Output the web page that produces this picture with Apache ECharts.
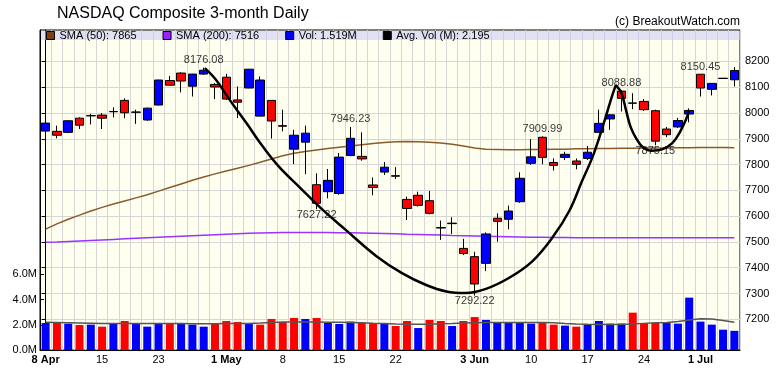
<!DOCTYPE html>
<html>
<head>
<meta charset="utf-8">
<title>NASDAQ Composite 3-month Daily</title>
<script src="https://cdn.jsdelivr.net/npm/echarts@6/dist/echarts.min.js"></script>
<style>
  html, body { margin: 0; padding: 0; background: #fff; }
  #chart { width: 780px; height: 376px; }
</style>
</head>
<body>
<div id="chart"></div>
<script>
// trading days on the chart
var dates = [
  '2019-04-08','2019-04-09','2019-04-10','2019-04-11','2019-04-12','2019-04-15','2019-04-16','2019-04-17','2019-04-18',
  '2019-04-22','2019-04-23','2019-04-24','2019-04-25','2019-04-26','2019-04-29','2019-04-30',
  '2019-05-01','2019-05-02','2019-05-03','2019-05-06','2019-05-07','2019-05-08','2019-05-09','2019-05-10',
  '2019-05-13','2019-05-14','2019-05-15','2019-05-16','2019-05-17','2019-05-20','2019-05-21','2019-05-22',
  '2019-05-23','2019-05-24','2019-05-28','2019-05-29','2019-05-30','2019-05-31',
  '2019-06-03','2019-06-04','2019-06-05','2019-06-06','2019-06-07','2019-06-10','2019-06-11','2019-06-12',
  '2019-06-13','2019-06-14','2019-06-17','2019-06-18','2019-06-19','2019-06-20','2019-06-21','2019-06-24',
  '2019-06-25','2019-06-26','2019-06-27','2019-06-28',
  '2019-07-01','2019-07-02','2019-07-03','2019-07-05'
];

var opens = [
  7930, 7929, 7925, 7980, 7989, 7992, 8005, 8049, 8003, 7973, 8031, 8126, 8155, 8104, 8151, 8111,
  8139, 8051, 8097, 7988, 8049, 7951, 7860, 7887, 7722, 7695, 7688, 7835, 7832, 7721, 7771, 7757,
  7665, 7681, 7660, 7556, 7571, 7475, 7443, 7417, 7592, 7588, 7656, 7805, 7906, 7808, 7828, 7814,
  7824, 7925, 7977, 8085, 8038, 8045, 8009, 7938, 7946, 7996, 8150.45, 8092, 8134, 8129
];
var closes = [
  7961, 7914, 7970, 7953, 7990, 7980, 8006, 8001, 8004, 8019, 8128, 8108, 8124, 8151, 8166, 8101,
  8054, 8042, 8170, 8128, 7969, 7949, 7914, 7922, 7650, 7739, 7829, 7902, 7822, 7711, 7790, 7755,
  7630, 7642, 7611, 7554, 7573, 7455, 7337, 7531, 7580, 7620, 7747, 7830, 7828, 7797, 7840, 7801,
  7848, 7960, 7993, 8057, 8039, 8013, 7891, 7916, 7971, 8010, 8097, 8115, 8135, 8165
];
var lows = [
  7893, 7902, 7922, 7938, 7956, 7938, 7983, 7980, 7958, 7970, 8030, 8107, 8080, 8064, 8148, 8054,
  8051, 7980, 8096, 7987, 7901, 7929, 7802, 7763, 7627.22, 7669, 7683, 7833, 7815, 7681, 7760, 7744,
  7585, 7637, 7607, 7508, 7531, 7449, 7292.22, 7387, 7501, 7549, 7652, 7799, 7801, 7777, 7818, 7782,
  7818, 7924, 7935, 8006, 8015, 8008, 7875.15, 7906, 7942, 7964, 8064, 8068, 8133, 8103
];
var highs = [
  7962, 7951, 7972, 7983, 7997, 8000, 8022, 8057, 8013, 8021, 8129, 8144, 8158, 8152, 8176.08, 8116,
  8152, 8103, 8171, 8142, 8050, 8013, 7935, 7951, 7766, 7783, 7845, 7946.23, 7925, 7750, 7810, 7790,
  7676, 7695, 7698, 7583, 7596, 7512, 7462, 7537, 7611, 7641, 7770, 7899, 7909.99, 7824, 7850, 7824,
  7872, 8013, 7995, 8088.88, 8077, 8054, 8013, 7946, 7981, 8018, 8150.45, 8116, 8136, 8178
];

// volume in millions
var volumes = [
  2.14, 2.19, 2.09, 1.98, 2.01, 1.85, 2.14, 2.30, 2.14, 1.85, 2.14, 2.06, 2.06, 2.01, 1.85, 2.14,
  2.30, 2.22, 2.09, 2.01, 2.46, 2.22, 2.54, 2.46, 2.54, 2.14, 2.06, 2.25, 2.14, 2.14, 2.06, 1.90,
  2.30, 1.74, 2.38, 2.30, 1.90, 2.30, 2.61, 2.38, 2.17, 2.14, 2.14, 2.09, 2.19, 2.01, 1.93, 1.85,
  2.01, 2.30, 2.09, 2.09, 2.96, 2.14, 2.14, 2.17, 2.09, 4.15, 2.25, 2.01, 1.61, 1.519
];
var avgVol = [
  2.19, 2.18, 2.16, 2.14, 2.12, 2.10, 2.10, 2.10, 2.11, 2.11, 2.11, 2.10, 2.10, 2.09, 2.09, 2.09,
  2.10, 2.10, 2.11, 2.13, 2.17, 2.21, 2.22, 2.22, 2.21, 2.20, 2.19, 2.18, 2.15, 2.12, 2.10, 2.07,
  2.05, 2.04, 2.05, 2.08, 2.10, 2.13, 2.15, 2.17, 2.18, 2.18, 2.18, 2.18, 2.17, 2.15, 2.10, 2.06,
  2.04, 2.03, 2.03, 2.04, 2.07, 2.11, 2.15, 2.18, 2.25, 2.38, 2.47, 2.46, 2.34, 2.195
];
var sma50 = [
  7550, 7570, 7588, 7604, 7620, 7634, 7647, 7659, 7671, 7683, 7697, 7711, 7725, 7739, 7752, 7764,
  7775, 7786, 7797, 7809, 7822, 7834, 7844, 7851, 7857, 7862, 7867, 7872, 7877, 7882, 7886, 7889,
  7890, 7889, 7887, 7884, 7879, 7872, 7864, 7860, 7859, 7858, 7858, 7859, 7859, 7860, 7860, 7861,
  7861, 7862, 7862, 7863, 7863, 7864, 7864, 7864, 7865, 7865, 7866, 7866, 7866, 7865
];
var sma200 = [
  7499, 7500, 7502, 7504, 7506, 7508, 7510, 7512, 7514, 7516, 7518, 7520, 7522, 7524, 7526, 7528,
  7530, 7532, 7534, 7535, 7536, 7537, 7537, 7537, 7537, 7537, 7536, 7536, 7535, 7534, 7533, 7532,
  7530, 7529, 7528, 7527, 7525, 7524, 7523, 7522, 7521, 7520, 7519, 7518, 7518, 7517, 7517, 7516,
  7516, 7516, 7516, 7516, 7516, 7516, 7516, 7516, 7516, 7516, 7516, 7516, 7516, 7516
];

var labelIdx = [0, 5, 10, 16, 21, 26, 31, 38, 43, 48, 53, 58];
var priceTicks = [7200, 7300, 7400, 7500, 7600, 7700, 7800, 7900, 8000, 8100, 8200];
var volTicks = [0, 2, 4, 6];
var monthNames = ['Jan','Feb','Mar','Apr','May','Jun','Jul','Aug','Sep','Oct','Nov','Dec'];

// marked highs / lows
var annIdx = [14, 24, 27, 38, 44, 51, 54, 58];
var annSide = ['high', 'low', 'high', 'low', 'high', 'high', 'low', 'high'];

// cup and handle outline, [day index, price]
var cupPts = [
  [14.1, 8174], [15.1, 8128], [16.3, 8051], [17.8, 7960], [19.2, 7872], [20.7, 7790], [22.5, 7712],
  [24.4, 7630], [26.6, 7546], [29.3, 7445], [31.6, 7378], [33.7, 7333], [35.5, 7308], [37.2, 7302],
  [39.0, 7318], [41.1, 7362], [43.1, 7425], [44.9, 7518], [46.4, 7622], [47.5, 7735], [48.4, 7825],
  [49.0, 7900], [49.6, 7984], [50.2, 8070], [50.5, 8108]
];
var handlePts = [
  [50.5, 8108], [51.0, 8077], [51.4, 8012], [51.8, 7947], [52.3, 7902], [52.9, 7867], [53.7, 7854],
  [54.6, 7859], [55.5, 7883], [56.2, 7928], [56.7, 7973], [57.0, 8009]
];

var FONT = "'Liberation Sans', Arial, sans-serif";
var UP = '#0000ff', DOWN = '#ff0000';
var last = dates.length - 1;

var nameSma50 = 'SMA (50): ' + sma50[last];
var nameSma200 = 'SMA (200): ' + sma200[last];
var nameVol = 'Vol: ' + volumes[last].toFixed(3) + 'M';
var nameAvg = 'Avg. Vol (M): ' + avgVol[last].toFixed(3);

function showLabel(idx) {
  return labelIdx.indexOf(idx) >= 0;
}

var chart = echarts.init(document.getElementById('chart'));

var option = {
  animation: false,
  backgroundColor: '#ffffff',
  textStyle: { fontFamily: FONT },
  title: [{
    text: 'NASDAQ Composite 3-month Daily',
    left: 57, top: 6, padding: 0,
    textStyle: { fontSize: 16, fontWeight: 'normal', color: '#000', fontFamily: FONT }
  }, {
    text: '(c) BreakoutWatch.com',
    right: 40, top: 16, padding: 0,
    textStyle: { fontSize: 12, fontWeight: 'normal', color: '#000', fontFamily: FONT }
  }],
  legend: {
    data: [
      { name: nameSma50, itemStyle: { color: '#7b3f12' } },
      { name: nameSma200, itemStyle: { color: '#9922ff' } },
      { name: nameVol, itemStyle: { color: UP } },
      { name: nameAvg, itemStyle: { color: '#000' } }
    ],
    left: 46, top: 30, padding: 0, z: 20,
    icon: 'rect', itemWidth: 8, itemHeight: 8, itemGap: 26,
    selectedMode: false,
    itemStyle: { borderColor: '#000', borderWidth: 1 },
    textStyle: { fontSize: 11, color: '#000', fontFamily: FONT }
  },
  graphic: [{
    type: 'rect', left: 41, top: 31, z: 10, silent: true,
    shape: { width: 699, height: 9 },
    style: { fill: 'rgba(200,200,245,0.55)' }
  }],
  grid: {
    left: 40, right: 40, top: 30, bottom: 26,
    show: true, backgroundColor: '#fffff0', borderColor: '#000', borderWidth: 1
  },
  xAxis: [{
    type: 'category',
    data: dates,
    boundaryGap: true,
    axisLine: { lineStyle: { color: '#000', width: 1 } },
    axisTick: { interval: showLabel, alignWithLabel: true, length: 3, lineStyle: { color: '#000' } },
    axisLabel: {
      interval: showLabel, margin: 4, fontSize: 11, color: '#000', fontFamily: FONT,
      formatter: function (v, idx) {
        var p = labelIdx.indexOf(idx);
        var parts = v.split('-');
        var m = +parts[1], d = +parts[2];
        var prevM = p > 0 ? +dates[labelIdx[p - 1]].split('-')[1] : -1;
        if (m !== prevM) return '{b|' + d + ' ' + monthNames[m - 1] + '}';
        return '' + d;
      },
      rich: { b: { fontWeight: 'bold', fontSize: 11, color: '#000', fontFamily: FONT } }
    },
    splitLine: { show: true, interval: 0, lineStyle: { color: '#d6d6d6', width: 1 } }
  }, {
    type: 'value', min: -0.5, max: 61.5, show: false
  }],
  yAxis: [{
    type: 'value', position: 'right',
    min: 7081, max: 8322, splitNumber: 12,
    axisLine: { show: true, lineStyle: { color: '#000' } },
    axisTick: { show: true, inside: true, length: 4, customValues: priceTicks, lineStyle: { color: '#000' } },
    axisLabel: {
      customValues: priceTicks, margin: 5, fontSize: 11, color: '#000', fontFamily: FONT,
      formatter: function (v) { return String(v); }
    },
    splitLine: { show: true, lineStyle: { color: '#d6d6d6', width: 1 } }
  }, {
    type: 'value', position: 'left',
    min: 0, max: 25.36,
    axisLine: { show: true, lineStyle: { color: '#000' } },
    axisTick: { show: true, inside: true, length: 4, customValues: volTicks, lineStyle: { color: '#000' } },
    axisLabel: {
      customValues: volTicks, margin: 3, fontSize: 11, color: '#000', fontFamily: FONT,
      formatter: function (v) { return v.toFixed(1) + 'M'; }
    },
    splitLine: { show: false }
  }],
  series: [{
    name: nameVol,
    type: 'bar',
    xAxisIndex: 0, yAxisIndex: 1,
    barWidth: 8,
    itemStyle: { color: UP },
    data: volumes.map(function (v, i) {
      var up = i === 0 || closes[i] >= closes[i - 1];
      return { value: v, itemStyle: { color: up ? UP : DOWN } };
    }),
    z: 2
  }, {
    name: nameAvg,
    type: 'line',
    xAxisIndex: 0, yAxisIndex: 1,
    data: avgVol,
    symbol: 'none',
    itemStyle: { color: '#000' },
    lineStyle: { color: '#555', width: 1.5 },
    z: 3
  }, {
    name: nameSma50,
    type: 'line',
    xAxisIndex: 0, yAxisIndex: 0,
    data: sma50,
    symbol: 'none',
    itemStyle: { color: '#7b3f12' },
    lineStyle: { color: '#8b5a2b', width: 1.5 },
    z: 2
  }, {
    name: nameSma200,
    type: 'line',
    xAxisIndex: 0, yAxisIndex: 0,
    data: sma200,
    symbol: 'none',
    itemStyle: { color: '#9922ff' },
    lineStyle: { color: '#9933ff', width: 1.5 },
    z: 2
  }, {
    name: 'NASDAQ',
    type: 'candlestick',
    xAxisIndex: 0, yAxisIndex: 0,
    barWidth: 9,
    data: opens.map(function (o, i) { return [o, closes[i], lows[i], highs[i]]; }),
    itemStyle: {
      color: UP, color0: DOWN,
      borderColor: '#000', borderColor0: '#000', borderColorDoji: '#000',
      borderWidth: 1
    },
    z: 4
  }, {
    name: 'cup',
    type: 'line',
    xAxisIndex: 1, yAxisIndex: 0,
    data: cupPts,
    smooth: 0.4,
    symbol: 'none',
    lineStyle: { color: '#000', width: 2.5 },
    z: 5
  }, {
    name: 'handle',
    type: 'line',
    xAxisIndex: 1, yAxisIndex: 0,
    data: handlePts,
    smooth: 0.4,
    symbol: 'none',
    lineStyle: { color: '#000', width: 2.5 },
    z: 5
  }, {
    name: 'marks',
    type: 'scatter',
    xAxisIndex: 1, yAxisIndex: 0,
    symbolSize: 0,
    data: annIdx.map(function (i, k) {
      var isHigh = annSide[k] === 'high';
      var v = isHigh ? highs[i] : lows[i];
      return {
        value: [i, v],
        label: { position: isHigh ? 'top' : 'bottom', distance: isHigh ? 2 : 0 }
      };
    }),
    label: {
      show: true, fontSize: 11, color: '#000', fontFamily: FONT,
      formatter: function (p) { return p.value[1].toFixed(2); }
    },
    z: 6
  }]
};

chart.setOption(option);
</script>
</body>
</html>
